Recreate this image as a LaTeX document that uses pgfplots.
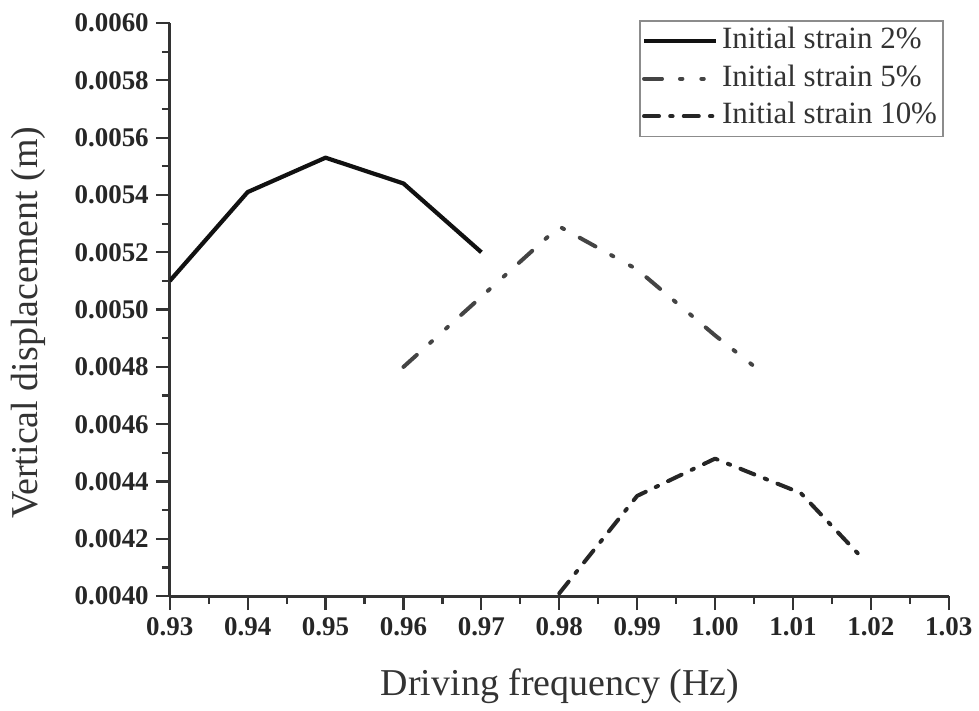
\documentclass[border=0pt]{standalone}
\usepackage{pgfplots}
\pgfplotsset{compat=1.18}
\usepackage{fontspec}
\setmainfont{Liberation Serif}
\definecolor{sone}{HTML}{111111}
\definecolor{stwo}{HTML}{444444}
\definecolor{sthree}{HTML}{262626}
\definecolor{axcol}{HTML}{333333}
\begin{document}
\begin{tikzpicture}
\begin{axis}[
  scale only axis,
  width=390pt, height=287pt,
  xmin=0.93, xmax=1.03,
  ymin=0.004, ymax=0.006,
  axis lines*=left,
  axis line style={axcol, line width=1.3pt},
  tick style={axcol, line width=1.1pt},
  tick align=outside,
  major tick length=7pt,
  minor tick length=4pt,
  xtick={0.93,0.94,0.95,0.96,0.97,0.98,0.99,1.00,1.01,1.02,1.03},
  ytick={0.0040,0.0042,0.0044,0.0046,0.0048,0.0050,0.0052,0.0054,0.0056,0.0058,0.0060},
  minor x tick num=1,
  minor y tick num=1,
  scaled y ticks=false,
  scaled x ticks=false,
  /pgf/number format/assume math mode=true,
  ticklabel style={font=\fontsize{13.5}{15}\selectfont\bfseries, text=black!85},
  xticklabel style={/pgf/number format/.cd, fixed, fixed zerofill, precision=2},
  yticklabel style={/pgf/number format/.cd, fixed, fixed zerofill, precision=4},
  xlabel={Driving frequency (Hz)},
  ylabel={Vertical displacement (m)},
  label style={font=\fontsize{19}{22}\selectfont, text=black!80},
  xlabel style={at={(axis description cs:0.501,-0.174)}, anchor=base},
  ylabel style={at={(axis description cs:-0.182,0.477)}, anchor=center},
  legend style={at={(axis description cs:0.9936,1.0052)}, anchor=north east,
    draw=black!45, line width=0.8pt, inner sep=1pt,
    font=\fontsize{15.5}{17}\selectfont, text=black!80,
    nodes={inner xsep=2pt, inner ysep=2pt, text height=11pt, text depth=3.5pt},
    row sep=0.25pt},
  legend cell align=left,
  legend image code/.code={\draw[#1] (0pt,0pt) -- (36pt,0pt);},
]
\addplot[sone, line width=2.1pt, line join=round] coordinates {
  (0.93,0.00510) (0.94,0.00541) (0.95,0.00553) (0.96,0.00544) (0.97,0.00520)};
\addlegendentry{Initial strain 2\%}
\addplot[stwo, line width=2pt, line cap=round, line join=round,
  dash pattern=on 9pt off 9pt on 1.2pt off 9.5pt on 1.2pt off 9pt] coordinates {
  (0.96,0.00480) (0.98,0.00529) (0.99,0.00514) (1.00,0.00491) (1.0065,0.00477)};
\addlegendentry{Initial strain 5\%}
\addplot[sthree, line width=2pt, line cap=round, line join=round,
  dash pattern=on 7.5pt off 5.6pt on 1.2pt off 5.6pt] coordinates {
  (0.98,0.00401) (0.99,0.00435) (1.00,0.00448) (1.011,0.00436) (1.019,0.00413)};
\addlegendentry{Initial strain 10\%}
\coordinate (ll) at (rel axis cs:0,0);
\coordinate (ur) at (rel axis cs:1,1);
\end{axis}
\path (ll) ++(-85pt,-54.5pt) coordinate (A);
\path (ur) ++(14.5pt,11.5pt) coordinate (B);
\useasboundingbox (A) rectangle (B);
\end{tikzpicture}
\end{document}
